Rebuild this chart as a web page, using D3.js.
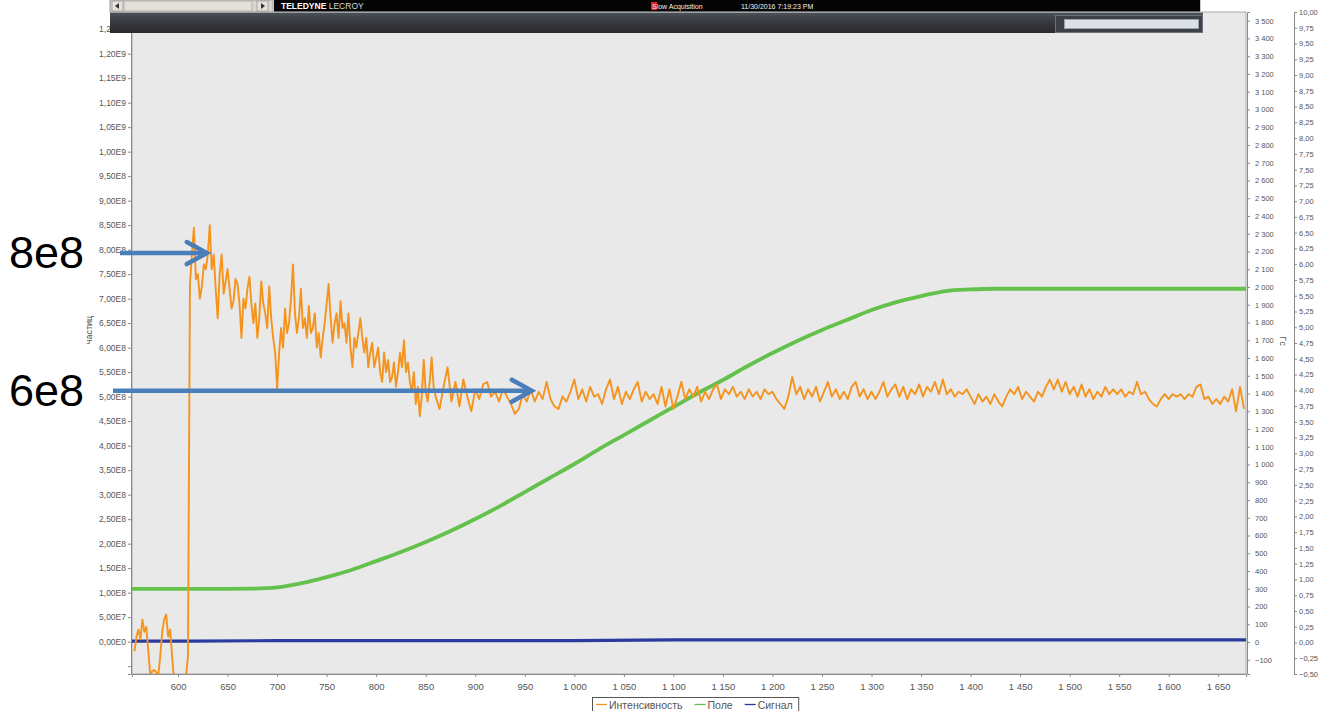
<!DOCTYPE html>
<html>
<head>
<meta charset="utf-8">
<script src="https://cdn.jsdelivr.net/npm/d3@7"></script>
<style>
  body { margin: 0; background: #fff; }
  svg { display: block; font-family: "Liberation Sans", Arial, sans-serif; }
</style>
</head>
<body>
<svg id="chart" width="1322" height="711"></svg>
<script>
// ---- Intensity (частиц), in units of 1e8 ----
// start-up part: sampled every 2 time units from t = 556 to t = 860
const intensityEarlyStart = 556;
const intensityEarlyStep = 2;
const intensityEarlyE8 = [
  -0.2, 0.1, 0.25, 0.05, 0.45, 0.2, 0.3, -0.2, -0.7, -0.6,
  -0.58, -0.62, -0.7, -0.3, 0.2, 0.45, 0.55, 0.1, 0.25, -0.3,
  -0.8, -0.8, -0.8, -0.8, -0.8, -0.8, -0.7, -0.3, 7.3, 7.9,
  8.45, 7.4, 7.5, 7.0, 7.25, 7.7, 7.6, 7.9, 8.5, 7.6,
  7.9, 7.2, 6.6, 7.5, 7.9, 7.1, 7.35, 7.6, 7.2, 6.8,
  6.95, 7.4, 7.3, 6.9, 6.2, 7.0, 6.8, 7.2, 7.45, 6.9,
  6.5, 6.9, 6.2, 6.6, 7.35, 6.9, 6.7, 6.4, 7.25, 6.6,
  6.2, 5.9, 5.15, 5.9, 6.4, 6.0, 6.8, 6.3, 6.5, 7.0,
  7.7, 6.7, 6.3, 6.6, 7.2, 6.4, 6.6, 6.2, 6.85, 6.3,
  6.4, 6.7, 6.0, 6.3, 5.8, 6.2, 6.5, 6.9, 7.3, 6.6,
  6.1, 6.5, 6.7, 6.2, 6.95, 6.4, 6.5, 6.1, 6.7, 6.0,
  5.6, 6.2, 6.0, 6.3, 6.6, 6.2, 5.9, 6.2, 5.6, 5.9,
  6.1, 5.6, 5.8, 6.0, 5.5, 5.3, 5.9, 5.5, 5.75, 5.3,
  5.4, 5.7, 5.2, 5.5, 5.9, 5.6, 6.15, 5.5, 5.7, 5.3,
  5.1, 5.5, 4.85, 5.2, 4.6, 5.0, 5.75, 5.1, 4.9, 5.3,
  5.8, 5.2, 5.0
];
// steady part: sampled every 4 time units from t = 864 to t = 1676
const intensityLateStart = 864;
const intensityLateStep = 4;
const intensityLateE8 = [
  4.75, 5.2, 5.6,
  4.9, 5.3, 4.8, 5.35, 5.0, 4.7, 5.15, 4.95, 5.25, 5.3,
  5.0, 5.1, 4.9, 5.15, 5.0, 4.85, 4.65, 4.75, 5.05, 4.9,
  5.15, 4.9, 5.1, 4.95, 5.3, 4.95, 4.8, 4.75, 5.0, 4.9,
  5.1, 5.35, 4.95, 5.15, 4.9, 5.2, 5.0, 5.05, 4.85, 5.15,
  5.35, 4.95, 5.2, 4.85, 5.1, 4.95, 5.15, 5.3, 4.9, 5.1,
  4.95, 5.05, 4.85, 5.2, 4.8, 5.15, 4.75, 5.0, 5.3, 4.95,
  5.15, 5.0, 5.2, 4.9, 5.1, 4.95, 5.15, 5.25, 4.95, 5.15,
  5.05, 5.2, 5.0, 5.1, 4.95, 5.15, 5.0, 5.1, 4.95, 5.15,
  5.05, 5.1, 4.95, 4.85, 4.75, 5.0, 5.4, 5.05, 5.2, 4.95,
  5.15, 5.0, 5.2, 4.9, 5.1, 5.3, 5.0, 5.15, 4.95, 5.1,
  4.95, 5.2, 5.3, 5.0, 5.15, 4.95, 5.1, 4.95, 5.1, 5.3,
  5.0, 5.15, 5.25, 5.0, 5.2, 4.95, 5.15, 5.05, 5.25, 5.0,
  5.2, 5.1, 5.3, 5.05, 5.35, 5.05, 5.15, 5.0, 5.1, 5.05,
  5.15, 5.0, 4.85, 5.05, 4.9, 5.0, 4.85, 5.05, 4.9, 4.8,
  5.0, 5.15, 5.05, 5.2, 4.95, 5.1, 5.0, 4.9, 5.1, 5.0,
  5.2, 5.35, 5.15, 5.35, 5.1, 5.3, 5.05, 5.2, 5.0, 5.25,
  5.0, 5.15, 4.95, 5.1, 5.0, 5.2, 5.05, 5.15, 5.05, 5.15,
  5.0, 5.1, 5.05, 5.3, 5.05, 5.1, 4.95, 4.85, 4.8, 4.95,
  5.05, 4.95, 5.05, 5.0, 5.05, 4.95, 5.05, 5.0, 5.2, 5.25,
  4.95, 5.0, 4.85, 4.95, 4.85, 5.0, 4.9, 5.15, 4.7, 5.2,
  4.75
];

// ---- Field (Поле), Гс ----
const fieldTimes = [
  550, 575, 600, 625, 650, 675, 700, 725, 750, 775,
  800, 825, 850, 875, 900, 925, 950, 975, 1000, 1025,
  1050, 1075, 1100, 1125, 1150, 1175, 1200, 1225, 1250, 1275,
  1300, 1325, 1350, 1375, 1400, 1425, 1450, 1500, 1550, 1600,
  1650, 1680
];
const fieldValues = [
  300, 300, 300, 300, 300, 301, 308, 332, 366, 406,
  456, 507, 563, 625, 693, 766, 845, 924, 1003, 1087,
  1166, 1245, 1324, 1403, 1476, 1555, 1628, 1696, 1758, 1814,
  1870, 1915, 1949, 1977, 1986, 1990, 1990, 1990, 1990, 1990,
  1990, 1990
];

// ---- Signal (Сигнал) ----
const signalTimes  = [550, 612, 700, 800, 900, 1000, 1100, 1200, 1300, 1400, 1500, 1600, 1680];
const signalValues = [0.02, 0.02, 0.03, 0.03, 0.03, 0.03, 0.04, 0.04, 0.04, 0.04, 0.04, 0.04, 0.04];

// ---- Axis ticks ----
const timeTicks = [600, 650, 700, 750, 800, 850, 900, 950, 1000, 1050, 1100, 1150,
                   1200, 1250, 1300, 1350, 1400, 1450, 1500, 1550, 1600, 1650];
const intensityTicksE8 = [-0.5, 0, 0.5, 1, 1.5, 2, 2.5, 3, 3.5, 4, 4.5, 5, 5.5, 6, 6.5,
                          7, 7.5, 8, 8.5, 9, 9.5, 10, 10.5, 11, 11.5, 12, 12.5];
const fieldTicks = [-100, 0, 100, 200, 300, 400, 500, 600, 700, 800, 900, 1000, 1100, 1200,
                    1300, 1400, 1500, 1600, 1700, 1800, 1900, 2000, 2100, 2200, 2300, 2400,
                    2500, 2600, 2700, 2800, 2900, 3000, 3100, 3200, 3300, 3400, 3500];
const signalTicks = [-0.5, -0.25, 0, 0.25, 0.5, 0.75, 1, 1.25, 1.5, 1.75, 2, 2.25, 2.5, 2.75,
                     3, 3.25, 3.5, 3.75, 4, 4.25, 4.5, 4.75, 5, 5.25, 5.5, 5.75, 6, 6.25,
                     6.5, 6.75, 7, 7.25, 7.5, 7.75, 8, 8.25, 8.5, 8.75, 9, 9.25, 9.5, 9.75, 10];

// ---- Legend & annotations ----
const seriesNames  = ["Интенсивность", "Поле", "Сигнал"];
const seriesColors = ["#f4941f", "#64c14b", "#2b3a9f"];
const annotations = [
  { label: "8e8", valueE8: 7.93, tipTime: 629, fromX: 120 },
  { label: "6e8", valueE8: 5.12, tipTime: 957, fromX: 113 }
];

// ================= drawing =================
const svg = d3.select("#chart");
const plot = { left: 132, right: 1246, top: 12, bottom: 674 };

const x = d3.scaleLinear().domain([553.5, 1678]).range([plot.left, plot.right]);
const yLeft = d3.scaleLinear().domain([-0.66, 12.85]).range([plot.bottom, plot.top]);
const yField = d3.scaleLinear().domain([-180, 3549]).range([plot.bottom, plot.top]);
const ySignal = d3.scaleLinear().domain([-0.5, 10]).range([plot.bottom, plot.top]);

const ru = d3.formatLocale({ decimal: ",", thousands: " ", grouping: [3], currency: ["", ""] });
const fmtThousands = ru.format(",d");
const fmtSignal = ru.format(".2f");
const fmtExp = v => {
  const s = d3.format(".2e")(v * 1e8);
  return s.replace(".", ",").replace("e+", "E").replace("e-", "E-");
};

// plot background
svg.append("rect")
  .attr("x", plot.left).attr("y", plot.top)
  .attr("width", plot.right - plot.left).attr("height", plot.bottom - plot.top)
  .attr("fill", "#e9e9e9").attr("stroke", "#a9a9a9").attr("stroke-width", 1);

const defs = svg.append("defs");
defs.append("clipPath").attr("id", "plotClip")
  .append("rect")
  .attr("x", plot.left).attr("y", plot.top)
  .attr("width", plot.right - plot.left).attr("height", plot.bottom - plot.top);

const series = svg.append("g").attr("clip-path", "url(#plotClip)");

// Поле
const fieldData = fieldTimes.map((t, i) => [t, fieldValues[i]]);
series.append("path")
  .datum(fieldData)
  .attr("fill", "none").attr("stroke", seriesColors[1]).attr("stroke-width", 3.8)
  .attr("d", d3.line().x(d => x(d[0])).y(d => yField(d[1])).curve(d3.curveMonotoneX));

// Сигнал
const signalData = signalTimes.map((t, i) => [t, signalValues[i]]);
series.append("path")
  .datum(signalData)
  .attr("fill", "none").attr("stroke", seriesColors[2]).attr("stroke-width", 3.2)
  .attr("d", d3.line().x(d => x(d[0])).y(d => ySignal(d[1])));

// Интенсивность
const intensityData = intensityEarlyE8.map((v, i) => [intensityEarlyStart + i * intensityEarlyStep, v])
  .concat(intensityLateE8.map((v, i) => [intensityLateStart + i * intensityLateStep, v]));
series.append("path")
  .datum(intensityData)
  .attr("fill", "none").attr("stroke", seriesColors[0]).attr("stroke-width", 1.9)
  .attr("stroke-linejoin", "round")
  .attr("d", d3.line().x(d => x(d[0])).y(d => yLeft(d[1])));

// axes
function styleAxis(g, size) {
  g.select(".domain").attr("stroke", "#8a8a8a");
  g.selectAll(".tick line").attr("stroke", "#8a8a8a");
  g.selectAll(".tick text").attr("fill", "#555").attr("font-size", size)
    .attr("font-family", "Liberation Sans, Arial, sans-serif");
}

const leftAxis = svg.append("g")
  .attr("transform", `translate(${plot.left - 1},0)`)
  .call(d3.axisLeft(yLeft).tickValues(intensityTicksE8).tickSize(3).tickPadding(2)
    .tickFormat(v => v < 0 ? "" : fmtExp(v)));
styleAxis(leftAxis, 8.5);

const bottomAxis = svg.append("g")
  .attr("transform", `translate(0,${plot.bottom})`)
  .call(d3.axisBottom(x).tickValues(timeTicks).tickSize(3).tickPadding(6)
    .tickFormat(v => fmtThousands(v)));
styleAxis(bottomAxis, 9.5);

const fieldAxis = svg.append("g")
  .attr("transform", `translate(${plot.right + 1},0)`)
  .call(d3.axisRight(yField).tickValues(fieldTicks).tickSize(3).tickPadding(5)
    .tickFormat(v => fmtThousands(v)));
styleAxis(fieldAxis, 7.5);

const signalAxis = svg.append("g")
  .attr("transform", `translate(1294,0)`)
  .call(d3.axisRight(ySignal).tickValues(signalTicks).tickSize(3).tickPadding(2)
    .tickFormat(v => fmtSignal(v)));
styleAxis(signalAxis, 7.5);

// axis titles
svg.append("text")
  .attr("transform", `translate(92,330) rotate(-90)`)
  .attr("text-anchor", "middle").attr("font-size", 9).attr("fill", "#555")
  .text("частиц");
svg.append("text")
  .attr("transform", `translate(1280,341) rotate(90)`)
  .attr("text-anchor", "middle").attr("font-size", 9).attr("fill", "#555")
  .text("Гс");

// ---- oscilloscope toolbar strip over the top of the chart ----
const bar = svg.append("g");
const grad = defs.append("linearGradient")
  .attr("id", "barGrad").attr("x1", 0).attr("y1", 0).attr("x2", 0).attr("y2", 1);
grad.append("stop").attr("offset", "0%").attr("stop-color", "#4d525a");
grad.append("stop").attr("offset", "45%").attr("stop-color", "#383b40");
grad.append("stop").attr("offset", "100%").attr("stop-color", "#2a2a2b");

// scroll strip
bar.append("rect").attr("x", 110).attr("y", 0).attr("width", 163).attr("height", 12)
  .attr("fill", "#d9d6d0").attr("stroke", "#9a9a9a");
bar.append("rect").attr("x", 112).attr("y", 1).attr("width", 11).attr("height", 10)
  .attr("fill", "#e6e3dd").attr("stroke", "#a5a5a5");
bar.append("path").attr("d", "M115,6 L119,3 L119,9 Z").attr("fill", "#333");
bar.append("rect").attr("x", 124).attr("y", 1).attr("width", 128).attr("height", 10)
  .attr("fill", "#e4e0d8").attr("stroke", "#b8b4ac");
bar.append("rect").attr("x", 257).attr("y", 1).attr("width", 11).attr("height", 10)
  .attr("fill", "#e6e3dd").attr("stroke", "#a5a5a5");
bar.append("path").attr("d", "M265,6 L261,3 L261,9 Z").attr("fill", "#333");

// black status strip
bar.append("rect").attr("x", 273.5).attr("y", -1).attr("width", 927).attr("height", 13)
  .attr("fill", "#040404").attr("stroke", "#c8c8c8");
const brand = bar.append("text").attr("x", 281).attr("y", 8.5)
  .attr("font-size", 8.5).attr("fill", "#fff");
brand.append("tspan").attr("font-weight", "bold").text("TELEDYNE ");
brand.append("tspan").attr("fill", "#d8d8d8").text("LECROY");
bar.append("rect").attr("x", 651).attr("y", 2).attr("width", 6).attr("height", 8).attr("fill", "#e0221f");
bar.append("text").attr("x", 652).attr("y", 8.5).attr("font-size", 7).attr("fill", "#f2f2f2")
  .text("Slow Acquisition");
bar.append("text").attr("x", 741).attr("y", 8.5).attr("font-size", 7).attr("fill", "#f2f2f2")
  .text("11/30/2016 7:19:23 PM");

// dark tool bar
bar.append("rect").attr("x", 110).attr("y", 12).attr("width", 1093).attr("height", 21)
  .attr("fill", "url(#barGrad)");
bar.append("line").attr("x1", 110).attr("x2", 1203).attr("y1", 12.5).attr("y2", 12.5)
  .attr("stroke", "#9ea3aa").attr("stroke-width", 1);
bar.append("rect").attr("x", 1055.5).attr("y", 15.5).attr("width", 147).attr("height", 17)
  .attr("fill", "#3e4147").attr("stroke", "#6e7278");
bar.append("rect").attr("x", 1064.5).attr("y", 19.5).attr("width", 134).attr("height", 9)
  .attr("fill", "#dde2e8").attr("stroke", "#9aa2ac");

// ---- annotations ----
const ann = svg.append("g");
annotations.forEach(a => {
  const yy = yLeft(a.valueE8);
  const tip = x(a.tipTime);
  ann.append("text")
    .attr("x", 9).attr("y", yy + 15)
    .attr("font-size", 45).attr("fill", "#000")
    .attr("font-family", "Liberation Sans, Arial, sans-serif")
    .text(a.label);
  ann.append("line")
    .attr("x1", a.fromX).attr("x2", tip - 3).attr("y1", yy).attr("y2", yy)
    .attr("stroke", "#4a7ebb").attr("stroke-width", 4.5);
  ann.append("path")
    .attr("d", `M${tip - 20},${yy - 11} L${tip},${yy} L${tip - 20},${yy + 11}`)
    .attr("fill", "none").attr("stroke", "#4a7ebb").attr("stroke-width", 4.5)
    .attr("stroke-linejoin", "miter").attr("stroke-linecap", "round");
});

// ---- legend ----
const legend = svg.append("g");
const legendBox = legend.append("rect")
  .attr("x", 592.5).attr("y", 697.5).attr("height", 14)
  .attr("fill", "#fff").attr("stroke", "#555");
let lx = 596;
seriesNames.forEach((name, i) => {
  legend.append("line").attr("x1", lx).attr("x2", lx + 11).attr("y1", 704.5).attr("y2", 704.5)
    .attr("stroke", seriesColors[i]).attr("stroke-width", 1.3);
  const t = legend.append("text").attr("x", lx + 13).attr("y", 708.5)
    .attr("font-size", 10.5).attr("fill", "#555").text(name);
  lx += 13 + t.node().getComputedTextLength() + (i < seriesNames.length - 1 ? 12 : 6);
});
legendBox.attr("width", lx - 592.5);
</script>
</body>
</html>
